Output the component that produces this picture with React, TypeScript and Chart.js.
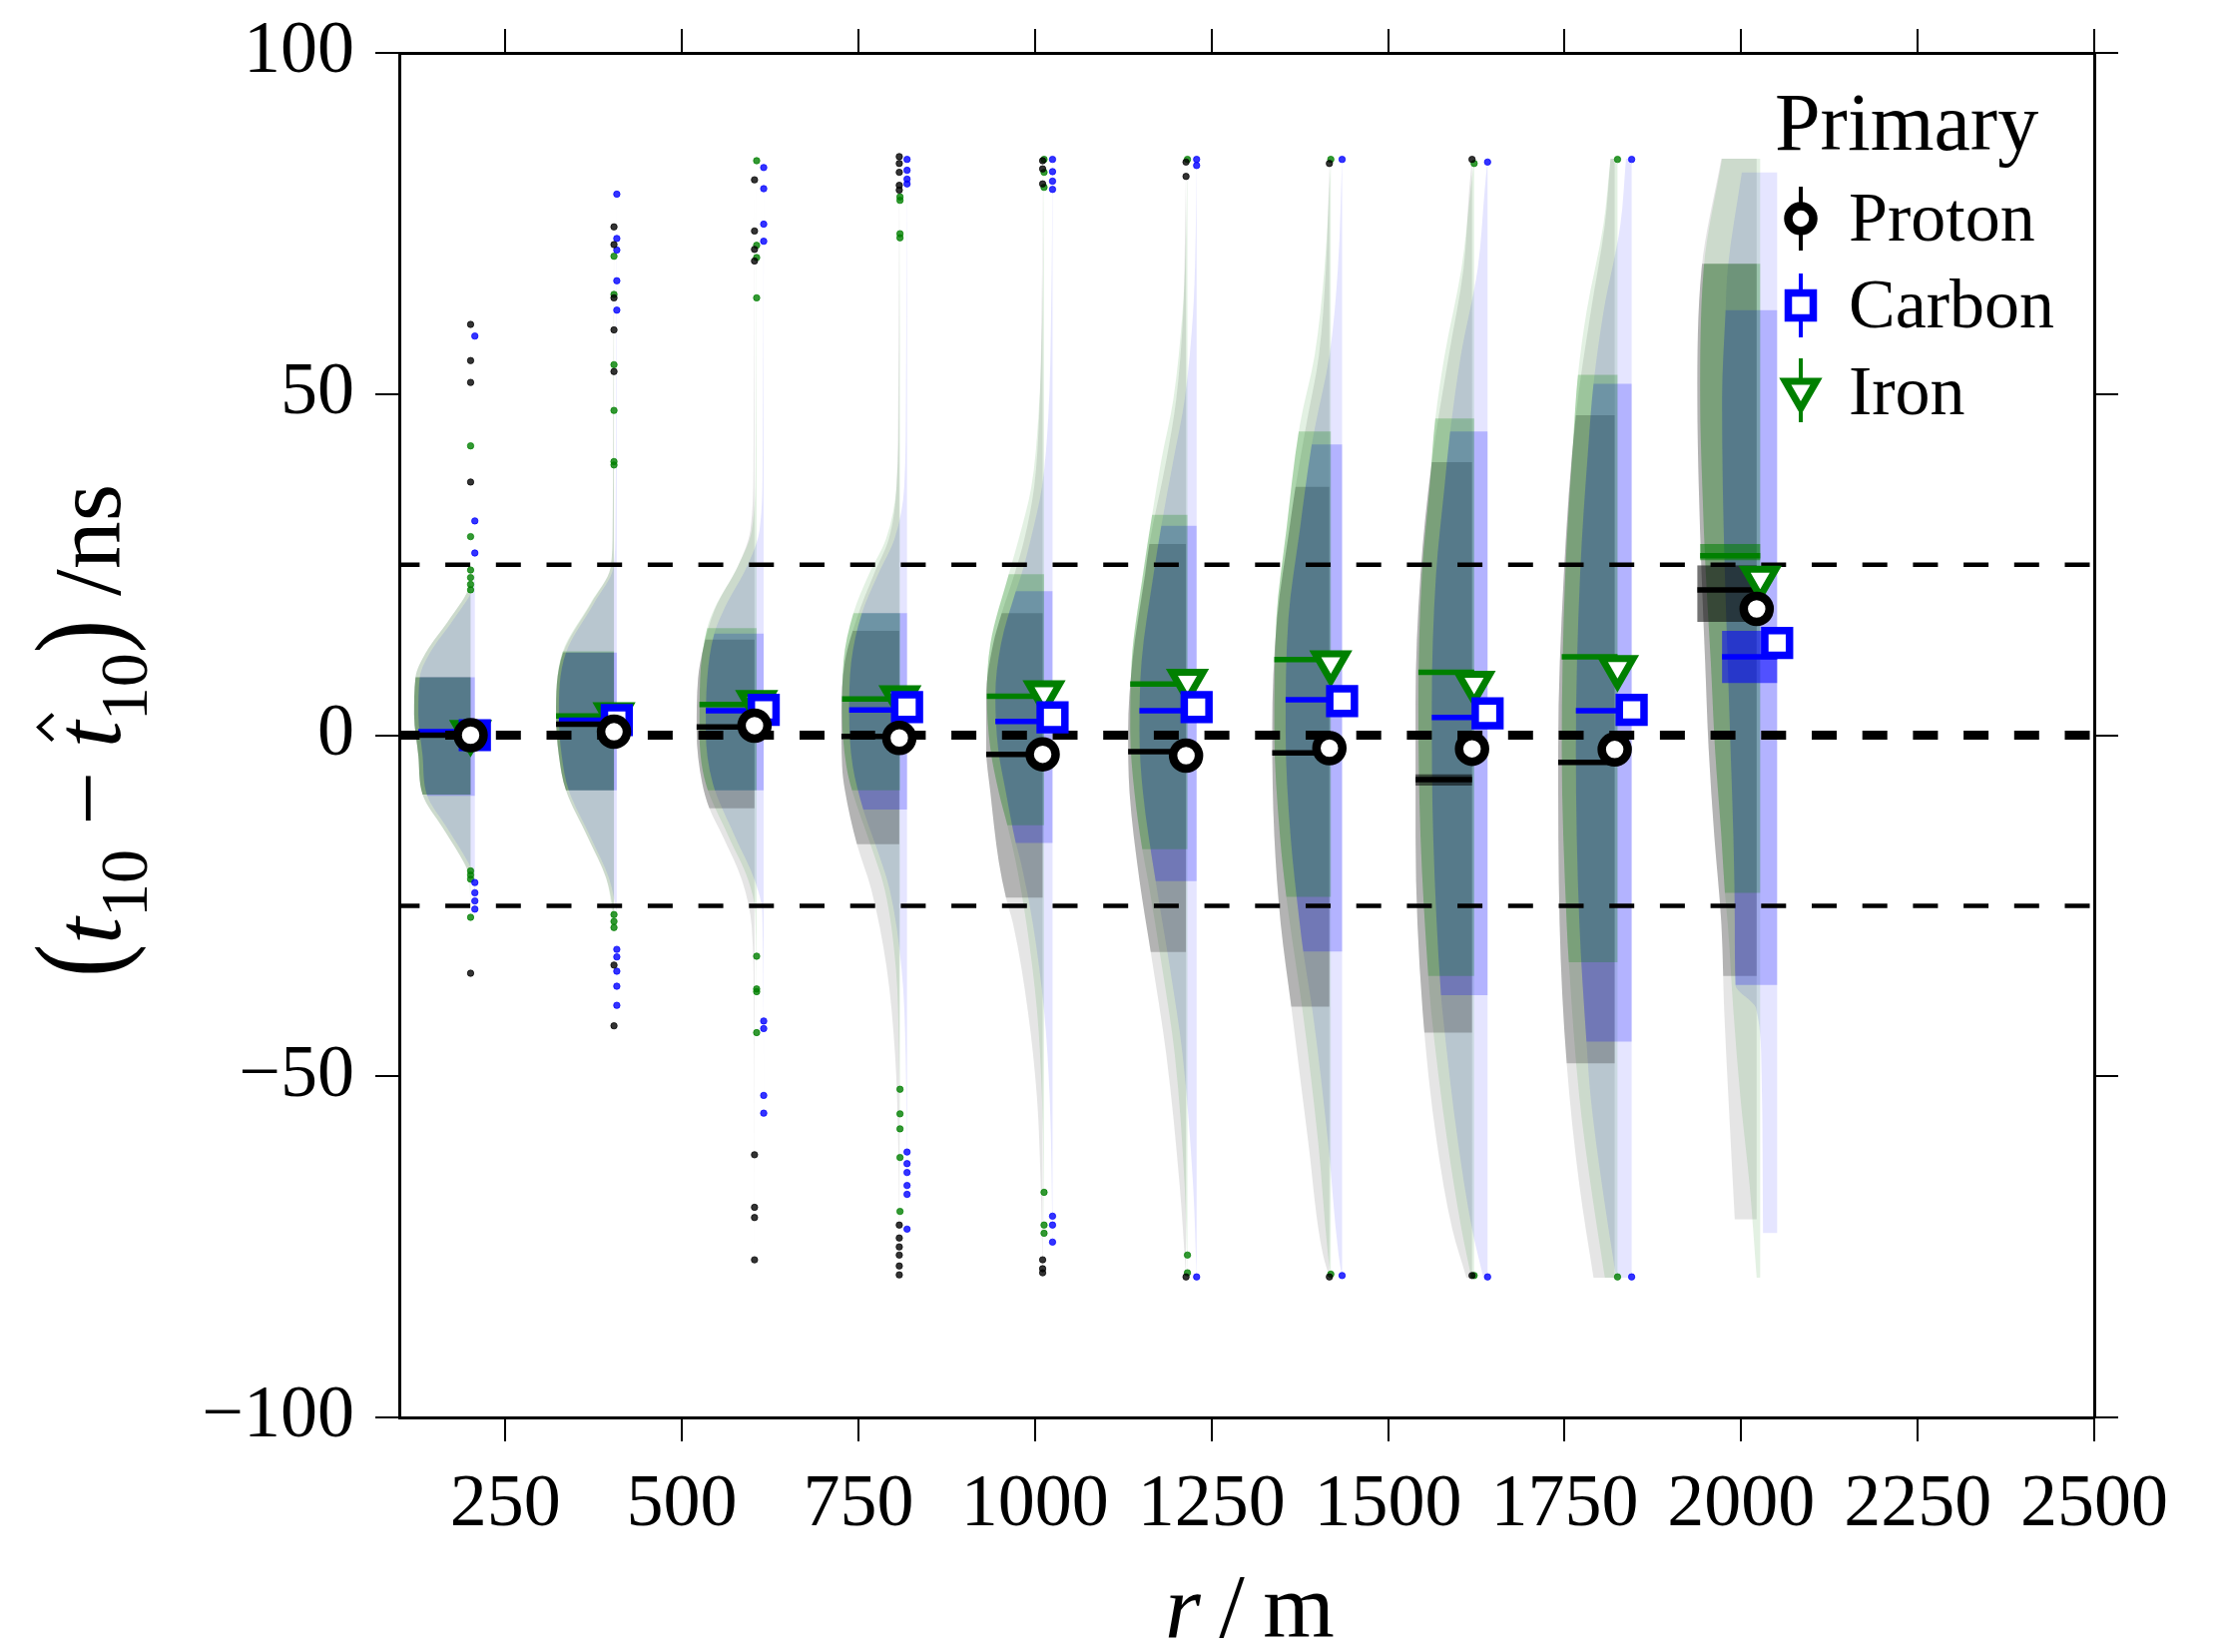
import React, { useEffect, useRef } from 'react';
import { Chart, registerables } from 'chart.js';

const FAMILY = '"Liberation Serif", "DejaVu Serif", serif';

// ---------- axes / labels ----------
const xTickValues = [250, 500, 750, 1000, 1250, 1500, 1750, 2000, 2250, 2500];
const yTickValues = [-100, -50, 0, 50, 100];
const guideLevels = [25, 0, -25];
const legendTitle = 'Primary';
const legendLabels = ['Proton', 'Carbon', 'Iron'];

// ---------- marker positions (mean r of bin) and mean offsets ----------
const protonR = [201, 404, 603, 808, 1011, 1214, 1417, 1619, 1821, 2022];
const carbonR = [207, 408, 616, 819, 1025, 1229, 1435, 1641, 1845, 2051];
const ironR = [201, 404, 606, 809, 1013, 1216, 1419, 1622, 1825, 2027];

const protonMean = [0, 0.5, 1.4, -0.4, -2.8, -3.0, -1.9, -2.0, -2.1, 18.5];
const carbonMean = [0, 2.2, 3.7, 4.1, 2.6, 4.1, 5.0, 3.2, 3.7, 13.5];
const ironMean = [0.4, 3.0, 4.8, 5.5, 6.2, 7.9, 10.6, 7.6, 9.9, 23.0];

// ---------- medians and their uncertainty ----------
const protonMedian = [0, 1.6, 1.2, -0.2, -2.8, -2.4, -2.6, -6.5, -4.0, 21.3];
const protonMedianLo = [0, 1.6, 1.2, -0.2, -2.8, -2.4, -2.6, -7.4, -4.0, 16.6];
const protonMedianHi = [0, 1.6, 1.2, -0.2, -2.8, -2.4, -2.6, -5.7, -4.0, 24.9];
const carbonMedian = [0.5, 2.2, 3.6, 3.7, 2.0, 3.6, 5.2, 2.6, 3.6, 11.5];
const carbonMedianLo = [0.5, 2.2, 3.6, 3.7, 2.0, 3.6, 5.2, 2.6, 3.6, 7.6];
const carbonMedianHi = [0.5, 2.2, 3.6, 3.7, 2.0, 3.6, 5.2, 2.6, 3.6, 15.3];
const ironMedian = [0.2, 2.8, 4.5, 5.3, 5.7, 7.5, 11.1, 9.2, 11.5, 26.3];
const ironMedianLo = [0.2, 2.8, 4.5, 5.3, 5.7, 7.5, 11.1, 9.2, 11.5, 25.6];
const ironMedianHi = [0.2, 2.8, 4.5, 5.3, 5.7, 7.5, 11.1, 9.2, 11.5, 28.0];

// ---------- central quantile band of each violin ----------
const protonBandHi = [8.5, 12.1, 14.0, 15.3, 17.9, 28, 36.4, 40, 46.9, 69.1];
const protonBandLo = [-8.7, -8.1, -10.7, -16, -23.8, -31.8, -39.8, -43.6, -48.1, -35.3];
const carbonBandHi = [8.5, 12.1, 14.9, 17.9, 21.1, 30.7, 42.6, 44.5, 51.5, 62.3];
const carbonBandLo = [-8.9, -8.1, -8.1, -10.9, -15.8, -21.4, -31.7, -38.1, -44.9, -36.6];
const ironBandHi = [8.5, 12.3, 15.7, 17.9, 23.6, 32.3, 44.5, 46.4, 52.8, 69.1];
const ironBandLo = [-8.7, -8.1, -8.1, -8.1, -13.2, -16.7, -23.7, -35.3, -33.3, -23.1];

// ---------- half-violin profiles: levels (ns) and half widths (m) ----------
const protonLevels = [
  [26, 22, 17, 12, 8.5, 3, -3, -8.7, -13.5, -17.5, -20, -22],
  [75, 45, 30, 24.5, 19.4, 12.1, 3, -3, -8.1, -15, -21, -26],
  [81, 40, 30, 24.9, 18.5, 13, 8.3, 0.6, -7.1, -10.7, -14.8, -21.2, -28, -40, -77],
  [85, 50, 36.4, 28.7, 23.6, 17.2, 10.8, 3.1, -4.5, -8.1, -16, -22.5, -34, -46.8, -60, -79],
  [84, 62, 46.7, 36.4, 28.7, 23.6, 17.9, 13.4, 5.7, -2, -8.4, -18.6, -23.8, -27.6, -40.4, -53.2, -65, -79],
  [84, 70, 62, 49.2, 40.3, 28, 23.6, 10.8, 0.6, -8.4, -21.2, -31.8, -46.8, -66, -79.4],
  [84, 68.4, 55.6, 45.4, 36.4, 30, 17.2, 0.6, -14.8, -27.6, -39.8, -59.6, -76.2, -79.4],
  [84.5, 80, 68.4, 55.6, 40, 23.6, 4.5, -14.8, -40.4, -59.6, -72.4, -79.5],
  [84.5, 74.8, 62, 46.9, 23.6, -2, -27.6, -48.1, -66, -79.5],
  [84.5, 68.4, 49.2, 36.4, 23.6, 10.8, -2, -14.8, -27.6, -40.4, -53.2, -71],
];
const protonWidths = [
  [0, 2, 30, 64, 78, 80, 74, 68, 40, 16, 4, 0],
  [0, 1, 2, 5, 32, 72, 82, 78, 68, 37, 11, 0],
  [0, 1.5, 6, 23, 56, 72, 80, 82, 74, 64, 45, 18, 4, 1, 0],
  [0, 1.5, 4, 15, 36, 60, 77, 82, 81, 77, 60, 40, 18, 6, 1.5, 0],
  [0, 1.5, 5, 12, 26, 40, 58, 70, 80, 80, 74, 62, 52, 42, 21, 8, 3, 0],
  [0, 2, 4, 14, 28, 52, 58, 76, 82, 80, 66, 50, 28, 9, 0],
  [0, 5, 15, 33, 48, 57, 74, 81, 78, 69, 54, 30, 9, 0],
  [0, 4, 12, 33, 57, 73, 80, 80, 70, 50, 28, 8],
  [6, 14, 34, 55, 72, 80, 78, 68, 50, 30],
  [50, 78, 84, 82, 78, 73, 68, 60, 50, 46, 40, 31],
];
const carbonLevels = [
  [26, 22, 17, 12, 8.5, 3, -3, -8.7, -13.5, -17.5, -20, -25],
  [79, 45, 30, 24.5, 19.4, 12.1, 3, -3, -8.1, -15, -21, -26],
  [83, 40, 30, 24.9, 18.5, 14.9, 8.3, 0.6, -7.1, -14.8, -21.2, -26, -55],
  [85, 50, 36.4, 28.7, 23.6, 17.9, 10.8, 3.1, -4.5, -10.9, -16, -22.5, -34, -46.8, -72],
  [84.5, 62, 46.7, 36.4, 28.7, 23.6, 21.1, 13.4, 5.7, -2, -8.4, -15.8, -18.6, -27.6, -40.4, -53.2, -74],
  [84.5, 70, 62, 49.2, 40.3, 30.7, 23.6, 10.8, 0.6, -8.4, -21.4, -34, -46.8, -66, -79.5],
  [84.5, 68.4, 55.6, 45.4, 42.6, 30, 17.2, 0.6, -14.8, -27.6, -31.7, -40.4, -59.6, -76.2, -79.5],
  [84.5, 80, 68.4, 55.6, 44.5, 36.4, 23.6, 4.5, -14.8, -38.1, -40.4, -59.6, -72.4, -79.5],
  [84.5, 74.8, 62, 51.5, 42.8, 23.6, -2, -27.6, -44.9, -53.2, -66, -79.5],
  [82.5, 68.4, 62.3, 49.2, 36.4, 23.6, 10.8, -2, -14.8, -27.6, -36.6, -40, -50, -73],
];
const carbonWidths = [
  [0, 2, 30, 64, 78, 80, 74, 68, 40, 16, 4, 0],
  [0, 1, 2, 5, 32, 72, 82, 78, 68, 37, 11, 0],
  [0, 1.5, 6, 23, 56, 70, 80, 82, 72, 41, 13, 2, 0],
  [0, 1.5, 4, 18, 41, 64, 79, 82, 77, 62, 45, 25, 8, 2, 0],
  [0, 2, 6, 15, 31, 44, 52, 73, 81, 77, 66, 52, 45, 28, 12, 4, 0],
  [0, 2, 5, 17, 33, 50, 61, 78, 81, 76, 58, 38, 20, 5, 0],
  [0, 6, 18, 38, 43, 60, 76, 80, 73, 60, 55, 42, 20, 5, 0],
  [0, 4, 14, 38, 53, 61, 73, 79, 77, 66, 64, 42, 22, 6],
  [8, 16, 40, 54, 61, 73, 79, 74, 64, 58, 42, 22],
  [50, 70, 73, 78, 77, 74, 70, 66, 62, 60, 59, 30, 22, 20],
];
const ironLevels = [
  [26, 22, 17, 12, 8.5, 3, -3, -8.7, -13.5, -17.5, -20, -26],
  [70, 45, 30, 24.5, 19.4, 12.1, 3, -3, -8.1, -15, -21, -28],
  [84, 40, 30, 24.9, 18.5, 15.7, 8.3, 0.6, -7.1, -14.8, -21.2, -26, -44],
  [79, 50, 36.4, 28.7, 23.6, 17.9, 10.8, 3.1, -4.5, -8.1, -16, -22.5, -34, -46.8, -70],
  [84.5, 62, 46.7, 36.4, 28.7, 23.6, 13.4, 5.7, -2, -8.4, -13.2, -18.6, -27.6, -40.4, -53.2, -74],
  [84.5, 70, 62, 49.2, 40.3, 32.3, 23.6, 10.8, 0.6, -8.4, -16.7, -21.2, -34, -46.8, -66, -79],
  [84.5, 68.4, 55.6, 45.4, 30, 17.2, 0.6, -14.8, -23.7, -27.6, -40.4, -59.6, -76.2, -79.5],
  [84.5, 80, 68.4, 55.6, 46.4, 36.4, 23.6, 4.5, -14.8, -35.3, -40.4, -59.6, -72.4, -79.5],
  [84.5, 74.8, 62, 52.8, 42.8, 23.6, -2, -27.6, -33.3, -53.2, -66, -79.5],
  [84.5, 68.4, 49.2, 36.4, 23.6, 10.8, -2, -14.8, -23.1, -27.6, -40.4, -53.2, -66, -79.5],
];
const ironWidths = [
  [0, 2, 30, 64, 78, 80, 74, 68, 40, 16, 4, 0],
  [0, 1, 2, 5, 33, 73, 82, 78, 68, 37, 11, 0],
  [0, 1.5, 7, 26, 60, 70, 80, 81, 72, 40, 12, 2, 0],
  [0, 1.5, 5, 20, 44, 66, 80, 82, 76, 68, 42, 22, 6, 1.5, 0],
  [0, 2.5, 8, 18, 36, 50, 76, 81, 76, 64, 52, 40, 25, 10, 3, 0],
  [0, 3, 7, 20, 37, 50, 63, 79, 81, 75, 64, 56, 36, 18, 4, 0],
  [0, 9, 23, 44, 63, 77, 80, 72, 63, 58, 40, 18, 4, 0],
  [0, 5, 18, 42, 55, 63, 74, 79, 76, 65, 61, 38, 18, 4],
  [10, 20, 44, 56, 63, 74, 79, 72, 69, 54, 38, 18],
  [54, 80, 85, 82, 77, 70, 64, 55, 50, 46, 38, 28, 15, 5],
];

// ---------- outliers beyond the violins ----------
const protonOutliers = [
  [60.2, 54.9, 51.7, 37.1, -34.9],
  [74.5, 71.9, 64.1, 59.4, 53.3, -33.7, -42.6],
  [81.4, 73.9, 71.2, 69.5, -61.5, -69.2, -70.7, -76.9],
  [84.8, 83.8, 82.5, 80.6, 79.9, -71.8, -73.7, -75.0, -76.2, -77.8, -79.1],
  [84.2, 83.0, 80.8, -76.9, -78.2, -78.8],
  [84.0, 81.9, -79.4],
  [83.8, -79.4],
  [84.4, -79.2],
  [],
  [],
];
const carbonOutliers = [
  [58.5, 31.4, 26.7, -21.6, -23.1, -24.3, -25.5],
  [79.3, 72.8, 71.1, 66.6, 62.3, -31.4, -32.5, -34.6, -36.8, -39.6],
  [83.2, 80.1, 74.9, 72.4, -41.9, -43.0, -52.8, -55.4],
  [84.4, 82.8, 81.5, 80.8, -61.1, -62.8, -64.1, -66.0, -67.3, -72.4],
  [84.4, 82.6, 81.2, 80.0, -70.5, -71.8, -74.3],
  [84.4, 83.5, -79.4],
  [84.4, -79.2],
  [84.0, -79.4],
  [84.4, -79.4],
  [],
];
const ironOutliers = [
  [42.4, 29.1, 24.2, 23.1, 22.1, 21.3, -19.9, -20.5, -21.1, -26.7],
  [70.2, 64.6, 54.3, 47.6, 40.1, 39.6, -26.3, -27.3, -28.2],
  [84.2, 71.8, 70.0, 64.1, -32.4, -37.2, -37.6, -43.6],
  [78.9, 78.4, 73.5, 72.9, -51.9, -55.5, -57.7, -61.9, -69.8],
  [84.4, 82.5, 80.3, -67.0, -71.8, -73.0],
  [84.4, -76.2, -78.8],
  [84.4, -79.0],
  [83.8, -79.2],
  [84.4, -79.4],
  [],
];

// ---------- plugin: clip the quantile band datasets to their level range ----------
const bandClipPlugin = {
  id: 'bandClip',
  beforeDatasetDraw(chart: any, args: any) {
    const ds = chart.data.datasets[args.index];
    if (!ds || ds.bandHi === undefined) return;
    const ys = chart.scales.y;
    const a = chart.chartArea;
    const top = ys.getPixelForValue(ds.bandHi);
    const bot = ys.getPixelForValue(ds.bandLo);
    const ctx = chart.ctx;
    ctx.save();
    ctx.beginPath();
    ctx.rect(a.left, top, a.right - a.left, bot - top);
    ctx.clip();
  },
  afterDatasetDraw(chart: any, args: any) {
    const ds = chart.data.datasets[args.index];
    if (!ds || ds.bandHi === undefined) return;
    chart.ctx.restore();
  },
};
Chart.register(bandClipPlugin as any);
Chart.register(...registerables);

function rgba(c: number[], a: number) {
  return `rgba(${c[0]},${c[1]},${c[2]},${a})`;
}

const decorPlugin = {
  id: 'decor',
  afterDraw(chart: any) {
    const ctx: CanvasRenderingContext2D = chart.ctx;
    ctx.save();
    ctx.fillStyle = '#000';
    ctx.strokeStyle = '#000';
    ctx.textBaseline = 'alphabetic';
    ctx.textAlign = 'left';

    // ---- y title ----
    const main = `96px ${FAMILY}`;
    const ital = `italic 96px ${FAMILY}`;
    const sub = `68px ${FAMILY}`;
    const paren = `100px ${FAMILY}`;
    const parts: any[] = [
      { s: '(', f: paren, dy: 2, stretch: 1.22 },
      { s: 't', f: ital, dy: 0 },
      { s: '10', f: sub, dy: 27 },
      { s: ' \u2212 ', f: main, dy: 0 },
      { s: 't', f: ital, dy: 0, hat: true },
      { s: '10', f: sub, dy: 27 },
      { s: ')', f: paren, dy: 2, stretch: 1.22 },
      { s: ' /ns', f: main, dy: 0 },
    ];
    let total = 0;
    const ws = parts.map((p) => {
      ctx.font = p.f;
      const w = ctx.measureText(p.s).width;
      total += w;
      return w;
    });
    ctx.save();
    ctx.translate(120, 732);
    ctx.rotate(-Math.PI / 2);
    let x = -total / 2;
    parts.forEach((p, i) => {
      ctx.font = p.f;
      if (p.stretch) {
        ctx.save();
        ctx.translate(x, p.dy + 8);
        ctx.scale(1, p.stretch);
        ctx.fillText(p.s, 0, -8);
        ctx.restore();
      } else {
        ctx.fillText(p.s, x, p.dy);
      }
      if (p.hat) {
        const cx = x + ws[i] / 2 + 7;
        ctx.lineWidth = 4;
        ctx.beginPath();
        ctx.moveTo(cx - 13, -67);
        ctx.lineTo(cx, -81);
        ctx.lineTo(cx + 13, -67);
        ctx.stroke();
      }
      x += ws[i];
    });
    ctx.restore();

    // ---- x title ----
    const xmain = `92px ${FAMILY}`;
    const xital = `italic 92px ${FAMILY}`;
    ctx.font = xital;
    const wr = ctx.measureText('r').width;
    ctx.font = xmain;
    const wsl = ctx.measureText('\u2009/\u2009').width;
    const wm = ctx.measureText('m').width;
    let xx = 1252 - (wr + wsl + wm) / 2;
    ctx.font = xital;
    ctx.fillText('r', xx, 1640);
    xx += wr;
    ctx.font = xmain;
    ctx.fillText('\u2009/\u2009', xx, 1640);
    xx += wsl;
    ctx.fillText('m', xx, 1640);

    // ---- legend ----
    ctx.font = `82px ${FAMILY}`;
    ctx.fillText(legendTitle, 1778, 150);
    const cols = [[0, 0, 0], [0, 0, 255], [0, 128, 0]];
    const my = [219, 306, 391];
    const ty = [241, 328, 415];
    const mx = 1804;
    legendLabels.forEach((lab, i) => {
      const c = rgba(cols[i], 1);
      ctx.strokeStyle = c;
      ctx.lineWidth = 4;
      ctx.beginPath();
      ctx.moveTo(mx, my[i] - 32);
      ctx.lineTo(mx, my[i] + 32);
      ctx.stroke();
      ctx.fillStyle = '#fff';
      ctx.beginPath();
      if (i === 0) {
        ctx.lineWidth = 8.5;
        ctx.arc(mx, my[i], 12.5, 0, Math.PI * 2);
      } else if (i === 1) {
        ctx.lineWidth = 7.5;
        ctx.rect(mx - 12.5, my[i] - 12.5, 25, 25);
      } else {
        ctx.lineWidth = 7;
        const r = 18;
        ctx.moveTo(mx, my[i] + r);
        ctx.lineTo(mx - r * 0.866, my[i] - r / 2);
        ctx.lineTo(mx + r * 0.866, my[i] - r / 2);
        ctx.closePath();
      }
      ctx.fill();
      ctx.stroke();
      ctx.fillStyle = '#000';
      ctx.font = `70px ${FAMILY}`;
      ctx.fillText(lab, 1852, ty[i]);
    });
    ctx.restore();
  },
};

function buildDatasets() {
  const prims = [
    { rgb: [0, 0, 0], R: protonR, mean: protonMean, med: protonMedian, medLo: protonMedianLo, medHi: protonMedianHi, bandHi: protonBandHi, bandLo: protonBandLo, levels: protonLevels, widths: protonWidths, outliers: protonOutliers, style: 'circle', radius: 13, bw: 8.5, rot: 0, outerA: 0.1, bandA: 0.22, layer: 2 },
    { rgb: [0, 0, 255], R: carbonR, mean: carbonMean, med: carbonMedian, medLo: carbonMedianLo, medHi: carbonMedianHi, bandHi: carbonBandHi, bandLo: carbonBandLo, levels: carbonLevels, widths: carbonWidths, outliers: carbonOutliers, style: 'rect', radius: 17.5, bw: 7.5, rot: 0, outerA: 0.1, bandA: 0.22, layer: 1 },
    { rgb: [0, 128, 0], R: ironR, mean: ironMean, med: ironMedian, medLo: ironMedianLo, medHi: ironMedianHi, bandHi: ironBandHi, bandLo: ironBandLo, levels: ironLevels, widths: ironWidths, outliers: ironOutliers, style: 'triangle', radius: 18, bw: 7, rot: 180, outerA: 0.11, bandA: 0.24, layer: 0 },
  ];
  const ds: any[] = [];
  const common = { xAxisID: 'x', yAxisID: 'y' };
  prims.forEach((p) => {
    p.R.forEach((base, i) => {
      const pts = p.levels[i].map((v, k) => ({ x: base - p.widths[i][k], y: v }));
      const maxW = Math.max(...p.widths[i]);
      ds.push({
        ...common, type: 'line', indexAxis: 'y', data: pts, showLine: true,
        fill: { value: base }, backgroundColor: rgba(p.rgb, p.outerA), borderWidth: 0,
        pointRadius: 0, cubicInterpolationMode: 'monotone', order: 20 + p.layer,
      });
      ds.push({
        ...common, type: 'line', indexAxis: 'y', data: pts, showLine: true,
        fill: { value: base }, backgroundColor: rgba(p.rgb, p.bandA), borderWidth: 0,
        pointRadius: 0, cubicInterpolationMode: 'monotone', order: 10 + p.layer,
        bandHi: p.bandHi[i], bandLo: p.bandLo[i],
      });
      if (p.medHi[i] > p.medLo[i]) {
        ds.push({
          ...common, type: 'line', indexAxis: 'y', showLine: true,
          data: [{ x: base - maxW, y: p.medHi[i] }, { x: base - maxW, y: p.medLo[i] }],
          fill: { value: base }, backgroundColor: rgba(p.rgb, 0.55), borderWidth: 0,
          pointRadius: 0, order: 5,
        });
      }
      ds.push({
        ...common, type: 'line', showLine: true,
        data: [{ x: base - maxW, y: p.med[i] }, { x: base, y: p.med[i] }],
        borderColor: rgba(p.rgb, 1), borderWidth: 5.5, pointRadius: 0, fill: false, order: 3,
      });
    });
    const outPts: any[] = [];
    p.outliers.forEach((vals, i) => vals.forEach((v) => outPts.push({ x: p.R[i], y: v })));
    ds.push({
      ...common, type: 'scatter', data: outPts, pointRadius: 3.2, pointBorderWidth: 0.8,
      pointBackgroundColor: rgba(p.rgb, 0.8), pointBorderColor: rgba(p.rgb, 0.9), order: 1,
    });
    ds.push({
      ...common, type: 'scatter', data: p.R.map((x, i) => ({ x, y: p.mean[i] })),
      pointStyle: p.style, pointRadius: p.radius, pointBorderWidth: p.bw, pointRotation: p.rot,
      pointBorderColor: rgba(p.rgb, 1), pointBackgroundColor: '#ffffff', order: 0,
    });
  });
  guideLevels.forEach((lv) => {
    ds.push({
      ...common, type: 'line', showLine: true,
      data: [{ x: 100, y: lv }, { x: 2500, y: lv }],
      borderColor: '#000', borderWidth: lv === 0 ? 9 : 4.5, borderDash: [25, 25.7], borderDashOffset: 4.6,
      borderCapStyle: 'butt', pointRadius: 0, fill: false, order: 2,
    });
  });
  return ds;
}

export default function App() {
  const canvasRef = useRef<HTMLCanvasElement | null>(null);
  useEffect(() => {
    document.body.style.margin = '0';
    const canvas = canvasRef.current;
    if (!canvas) return;
    const grid = { display: true, drawOnChartArea: false, drawTicks: true, tickLength: 24, tickWidth: 2, tickColor: '#000', color: '#000', lineWidth: 2 };
    const border = { display: true, color: '#000', width: 3 };
    const tickFont = { family: FAMILY, size: 74 };
    const chart = new Chart(canvas, {
      type: 'scatter',
      data: { datasets: buildDatasets() },
      options: {
        responsive: false,
        animation: false,
        devicePixelRatio: 1,
        events: [],
        layout: { padding: { left: 0, top: 29, right: 108, bottom: 0 } },
        plugins: { legend: { display: false }, tooltip: { enabled: false } },
        scales: {
          x: {
            type: 'linear', axis: 'x', position: 'bottom', min: 100, max: 2500,
            afterBuildTicks: (s: any) => { s.ticks = xTickValues.map((v) => ({ value: v })); },
            afterFit: (s: any) => { s.height = 235; s.paddingLeft = 0; s.paddingRight = 0; },
            ticks: { autoSkip: false, maxRotation: 0, minRotation: 0, padding: 20, font: tickFont, color: '#000', callback: (v: any) => String(v) },
            grid, border,
          },
          y: {
            type: 'linear', axis: 'y', position: 'left', min: -100, max: 100,
            afterBuildTicks: (s: any) => { s.ticks = yTickValues.map((v) => ({ value: v })); },
            afterFit: (s: any) => { s.width = 400; s.paddingTop = 0; s.paddingBottom = 0; },
            ticks: { padding: 21, font: tickFont, color: '#000', callback: (v: any) => (v < 0 ? '\u2212' + Math.abs(v) : String(v)) },
            grid, border,
          },
          xTop: {
            type: 'linear', axis: 'x', position: 'top', min: 100, max: 2500,
            afterBuildTicks: (s: any) => { s.ticks = xTickValues.map((v) => ({ value: v })); },
            afterFit: (s: any) => { s.height = 24; s.paddingLeft = 0; s.paddingRight = 0; },
            ticks: { display: false },
            grid, border,
          },
          yRight: {
            type: 'linear', axis: 'y', position: 'right', min: -100, max: 100,
            afterBuildTicks: (s: any) => { s.ticks = yTickValues.map((v) => ({ value: v })); },
            afterFit: (s: any) => { s.width = 24; s.paddingTop = 0; s.paddingBottom = 0; },
            ticks: { display: false },
            grid, border,
          },
        },
      } as any,
      plugins: [decorPlugin as any],
    });
    return () => chart.destroy();
  }, []);
  return (
    <div style={{ width: 2230, height: 1655 }}>
      <canvas ref={canvasRef} width={2230} height={1655} style={{ display: 'block', width: 2230, height: 1655 }} />
    </div>
  );
}
